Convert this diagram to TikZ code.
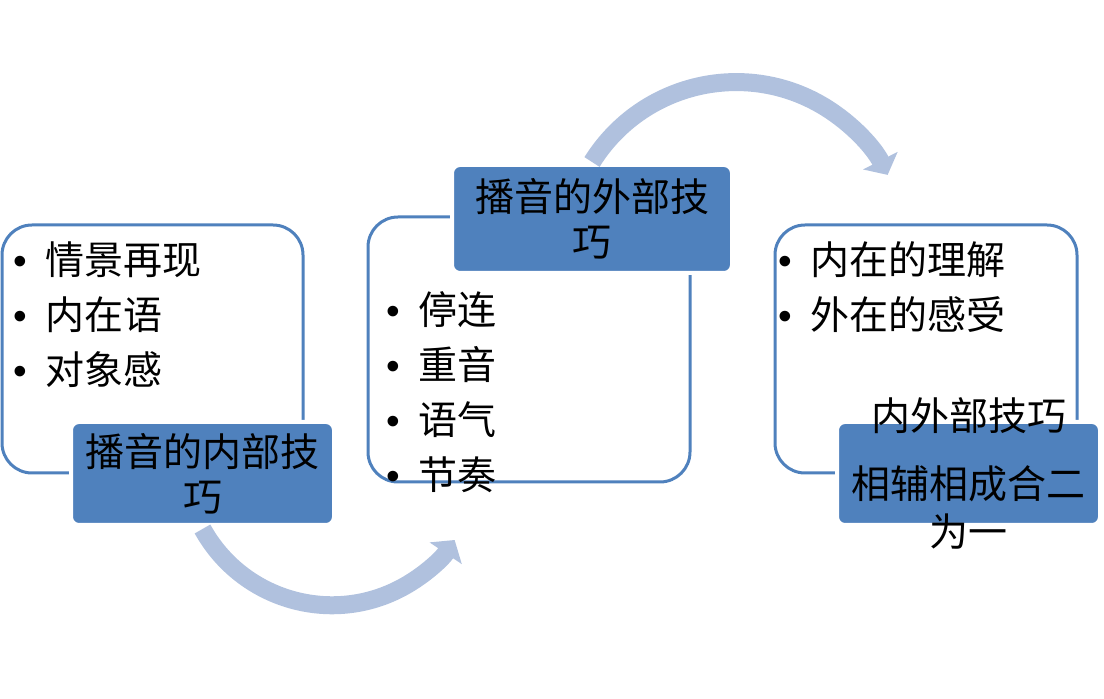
\documentclass[tikz,border=0pt]{standalone}
\usepackage{fontspec}
\setmainfont{Noto Sans CJK SC}
\newfontfamily\bulfont{Liberation Sans}
\usetikzlibrary{arrows.meta}
\definecolor{boxblue}{RGB}{79,129,189}
\definecolor{flowblue}{RGB}{176,193,222}
\newcommand\itm{\makebox[25pt][c]{\bulfont •}}

\begin{document}
\begin{tikzpicture}[x=0.5pt,y=0.5pt,
    listbox/.style={draw=boxblue,line width=1.5pt,fill=white,rounded corners=15pt,
                    anchor=north west,inner sep=0pt,outer sep=0pt},
    titlebox/.style={draw=white,line width=2pt,fill=boxblue,rounded corners=4pt,
                     anchor=north west,inner sep=0pt,outer sep=0pt},
    itemtext/.style={anchor=west,align=left,inner sep=0pt,
                     font=\fontsize{19.5pt}{27.5pt}\selectfont},
    titletext/.style={align=center,inner sep=0pt,
                      font=\fontsize{19.5pt}{22.5pt}\selectfont},
    flow/.style={draw=flowblue,line width=9pt,-{Triangle[length=8pt,width=19pt]}}
    ]
  \useasboundingbox (0,0) rectangle (1104,-699);

  \node[listbox,minimum width=150.5pt,minimum height=124pt] (inbox) at (2,-225) {};
  \node[listbox,minimum width=161pt,minimum height=132.5pt] (outbox) at (368,-217) {};
  \node[listbox,minimum width=151pt,minimum height=124pt] (mixbox) at (775,-225) {};

  \node[itemtext] (inlist) at (-5,-315) {\itm 情景再现\\\itm 内在语\\\itm 对象感};
  \node[itemtext] (outlist) at (368,-392.5) {\itm 停连\\\itm 重音\\\itm 语气\\\itm 节奏};
  \node[itemtext] (mixlist) at (760,-287.5) {\itm 内在的理解\\\itm 外在的感受};

  \node[titlebox,minimum width=131.5pt,minimum height=51.5pt] (intitle) at (71,-422) {};
  \node[titlebox,minimum width=140pt,minimum height=54pt] (outtitle) at (452,-165) {};
  \node[titlebox,minimum width=131.5pt,minimum height=51.5pt] (mixtitle) at (837,-422) {};

  \node[titletext] (intext) at (intitle) {播音的内部技\\巧};
  \node[titletext] (outtext) at (outtitle) {播音的外部技\\巧};
  \node[titletext,font=\fontsize{19.5pt}{24pt}\selectfont] (mixtext) at (mixtitle)
    {内外部技巧\\[10pt]相辅相成合二\\为一};

  \draw[flow] ([yshift=-2pt]intitle.south) arc[start angle=209,end angle=326,radius=148];
  \draw[flow] ([yshift=1.5pt]outtitle.north) arc[start angle=148,end angle=27,radius=170];
\end{tikzpicture}
\end{document}
